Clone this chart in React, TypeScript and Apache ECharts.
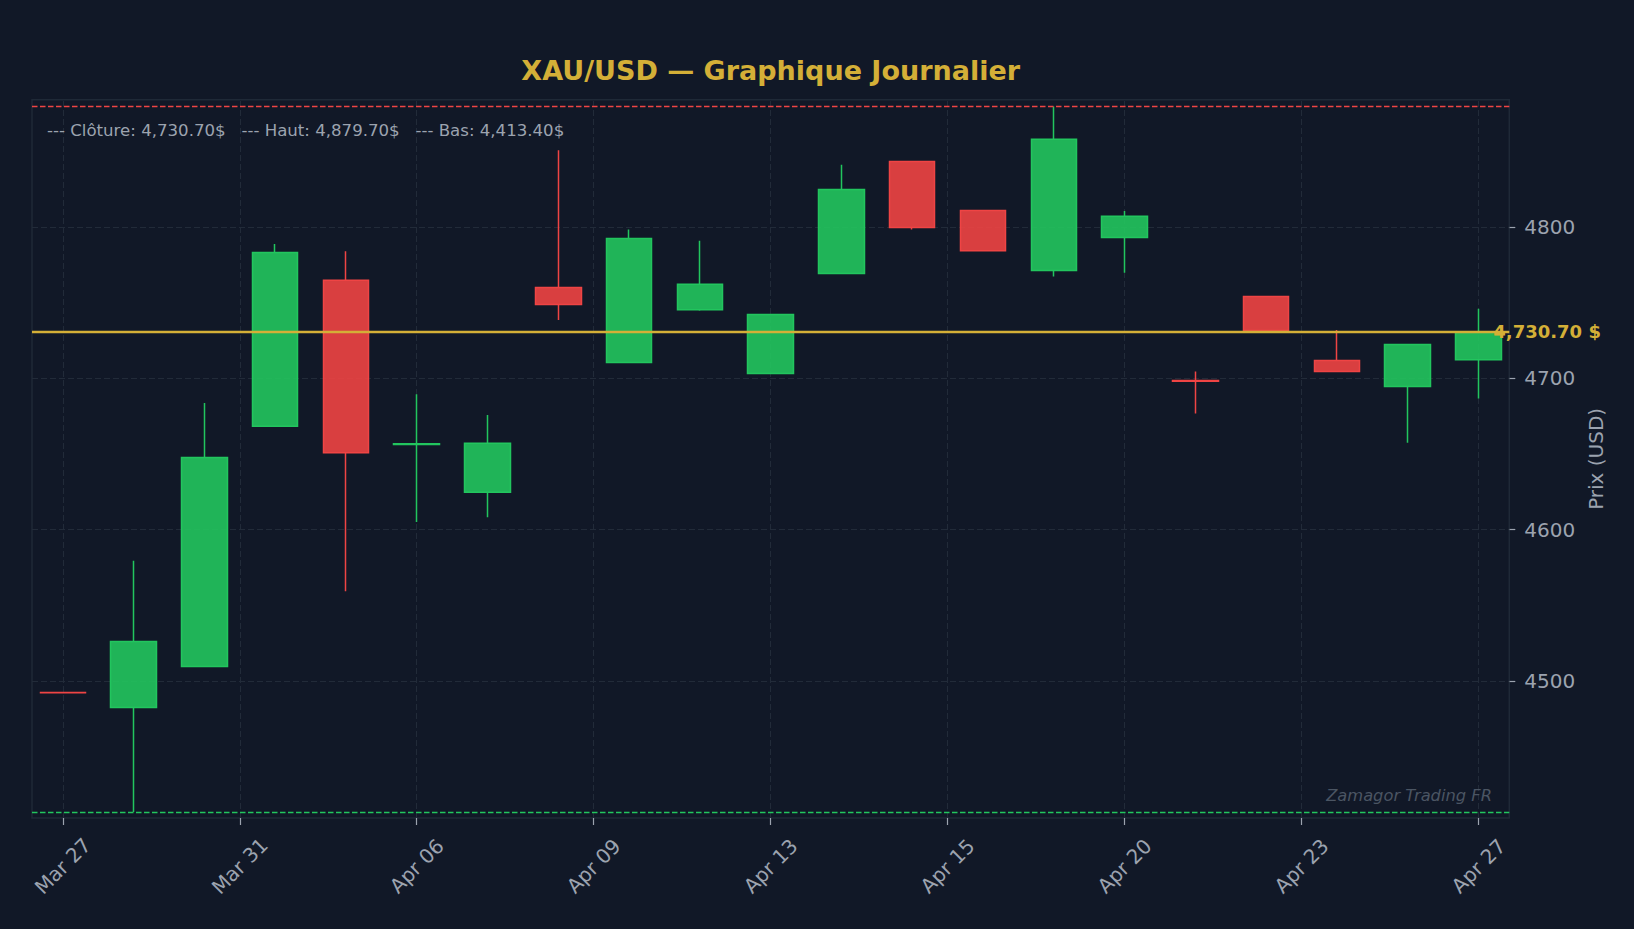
import { useEffect, useRef } from 'react';
import * as echarts from 'echarts';

// daily candles, x = trading-day index
const opens = [4492.5, 4482.6, 4509.7, 4668.4, 4764.8, 4656.4, 4624.8, 4760.1, 4710.5, 4745.4, 4703.3, 4769.4, 4843.3, 4810.9, 4771.3, 4793.1, 4698.6, 4754.2, 4711.8, 4694.6, 4712.4];
const closes = [4492.2, 4526.2, 4647.8, 4783.2, 4650.9, 4656.8, 4657.2, 4748.9, 4792.5, 4762.3, 4742.3, 4824.9, 4799.7, 4784.4, 4858.0, 4807.2, 4698.2, 4731.7, 4704.6, 4722.4, 4730.7];
const lows = [4492.2, 4413.4, 4509.1, 4668.4, 4559.3, 4605.1, 4608.2, 4738.6, 4710.5, 4744.8, 4703.3, 4769.4, 4798.4, 4784.4, 4767.3, 4769.8, 4676.8, 4731.7, 4704.6, 4657.5, 4686.8];
const highs = [4492.5, 4579.5, 4683.7, 4788.8, 4784.1, 4689.6, 4675.9, 4850.8, 4798.4, 4791.0, 4742.3, 4841.2, 4843.3, 4810.9, 4879.7, 4810.6, 4704.6, 4754.2, 4732.0, 4722.4, 4746.1];

const tickPositions = [0, 2.5, 5, 7.5, 10, 12.5, 15, 17.5, 20];
const tickLabels = ['Mar 27', 'Mar 31', 'Apr 06', 'Apr 09', 'Apr 13', 'Apr 15', 'Apr 20', 'Apr 23', 'Apr 27'];
const priceTicks = [4500, 4600, 4700, 4800];

const FONT = '"DejaVu Sans", "Noto Sans", sans-serif';
const GREY = '#9ca3af';
const GOLD = '#d4af37';

const fmtPrice = (v: number) => {
  const [int, dec] = v.toFixed(2).split('.');
  return int.replace(/\B(?=(\d{3})+(?!\d))/g, ',') + '.' + dec;
};

function App() {
  const chartRef = useRef<HTMLDivElement>(null);

  useEffect(() => {
    if (!chartRef.current) return;
    const chart = echarts.init(chartRef.current, null, { renderer: 'svg' });

    const lastClose = closes[closes.length - 1];
    const periodHigh = Math.max(...highs);
    const periodLow = Math.min(...lows);
    const candles = opens.map((o, i) => [i, o, closes[i], lows[i], highs[i]]);

    chart.setOption({
      animation: false,
      backgroundColor: '#111827',
      textStyle: { fontFamily: FONT },
      grid: {
        left: 32,
        right: 124.7,
        top: 99.7,
        bottom: 111,
        containLabel: false,
        outerBoundsMode: 'none',
        show: true,
        backgroundColor: 'transparent',
        borderColor: '#1f2937',
        borderWidth: 1.5,
      },
      graphic: [
        {
          type: 'text',
          x: 770.7,
          y: 70.5,
          style: {
            text: 'XAU/USD — Graphique Journalier',
            fill: GOLD,
            font: `bold 27px ${FONT}`,
            align: 'center',
            verticalAlign: 'middle',
          },
        },
        {
          type: 'text',
          x: 47,
          y: 130,
          z: 10,
          style: {
            text: `--- Clôture: ${fmtPrice(lastClose)}$   --- Haut: ${fmtPrice(periodHigh)}$   --- Bas: ${fmtPrice(periodLow)}$`,
            fill: GREY,
            font: `16.6px ${FONT}`,
            align: 'left',
            verticalAlign: 'middle',
          },
        },
        {
          type: 'text',
          x: 1492,
          y: 795,
          z: 10,
          style: {
            text: 'Zamagor Trading FR',
            fill: '#4b5563',
            font: `italic 16.3px ${FONT}`,
            align: 'right',
            verticalAlign: 'middle',
          },
        },
      ],
      xAxis: {
        type: 'value',
        min: -0.435,
        max: 20.435,
        splitLine: { show: false },
        axisLine: { show: false, onZero: false },
        axisTick: {
          show: true,
          length: 7,
          customValues: tickPositions,
          lineStyle: { color: GREY, width: 1.2 },
        },
        axisLabel: {
          customValues: tickPositions,
          formatter: (v: number) => tickLabels[tickPositions.indexOf(v)] ?? '',
          rotate: 45,
          align: 'center',
          verticalAlign: 'middle',
          margin: 48,
          fontSize: 20,
          color: GREY,
          fontFamily: FONT,
        },
      },
      yAxis: {
        type: 'value',
        position: 'right',
        min: 4409.5,
        max: 4884.2,
        splitLine: { show: false },
        axisLine: { show: false, onZero: false },
        axisTick: {
          show: true,
          length: 6,
          customValues: priceTicks,
          lineStyle: { color: GREY, width: 1.2 },
        },
        axisLabel: {
          customValues: priceTicks,
          formatter: (v: number) => String(v),
          margin: 15,
          fontSize: 20,
          color: GREY,
          fontFamily: FONT,
        },
        name: 'Prix (USD)',
        nameLocation: 'middle',
        nameRotate: 90,
        nameGap: 75,
        nameTextStyle: {
          fontSize: 20,
          color: GREY,
          fontFamily: FONT,
          align: 'center',
          verticalAlign: 'middle',
        },
      },
      series: [
        {
          // dashed grid drawn behind the candles
          type: 'line',
          data: [],
          silent: true,
          z: 1,
          markLine: {
            silent: true,
            symbol: 'none',
            z: 1,
            label: { show: false },
            lineStyle: { color: '#222b39', type: [6, 3], width: 1 },
            data: [
              ...priceTicks.map((v) => ({ yAxis: v })),
              ...tickPositions.map((v) => ({ xAxis: v })),
            ],
          },
        },
        {
          type: 'candlestick',
          data: candles,
          barWidth: 46,
          clip: false,
          z: 2,
          itemStyle: {
            color: 'rgba(34,197,94,0.9)',
            color0: 'rgba(239,68,68,0.9)',
            borderColor: '#22c55e',
            borderColor0: '#ef4444',
            borderWidth: 1.5,
          },
          markLine: {
            silent: true,
            symbol: 'none',
            z: 5,
            data: [
              {
                yAxis: lastClose,
                lineStyle: { color: GOLD, type: 'solid', width: 2.4 },
                label: {
                  show: true,
                  position: 'end',
                  distance: -16,
                  formatter: () => `${fmtPrice(lastClose)} $`,
                  color: GOLD,
                  fontWeight: 'bold',
                  fontSize: 18,
                  fontFamily: FONT,
                },
              },
              {
                yAxis: periodHigh,
                lineStyle: { color: '#ef4444', type: [5.5, 2.5], width: 1.4 },
                label: { show: false },
              },
              {
                yAxis: periodLow,
                lineStyle: { color: '#22c55e', type: [5.5, 2.5], width: 1.4 },
                label: { show: false },
              },
            ],
          },
        },
      ],
    });

    return () => chart.dispose();
  }, []);

  return (
    <div
      ref={chartRef}
      style={{ position: 'fixed', left: 0, top: 0, width: '1634px', height: '929px' }}
    />
  );
}

export default App;
